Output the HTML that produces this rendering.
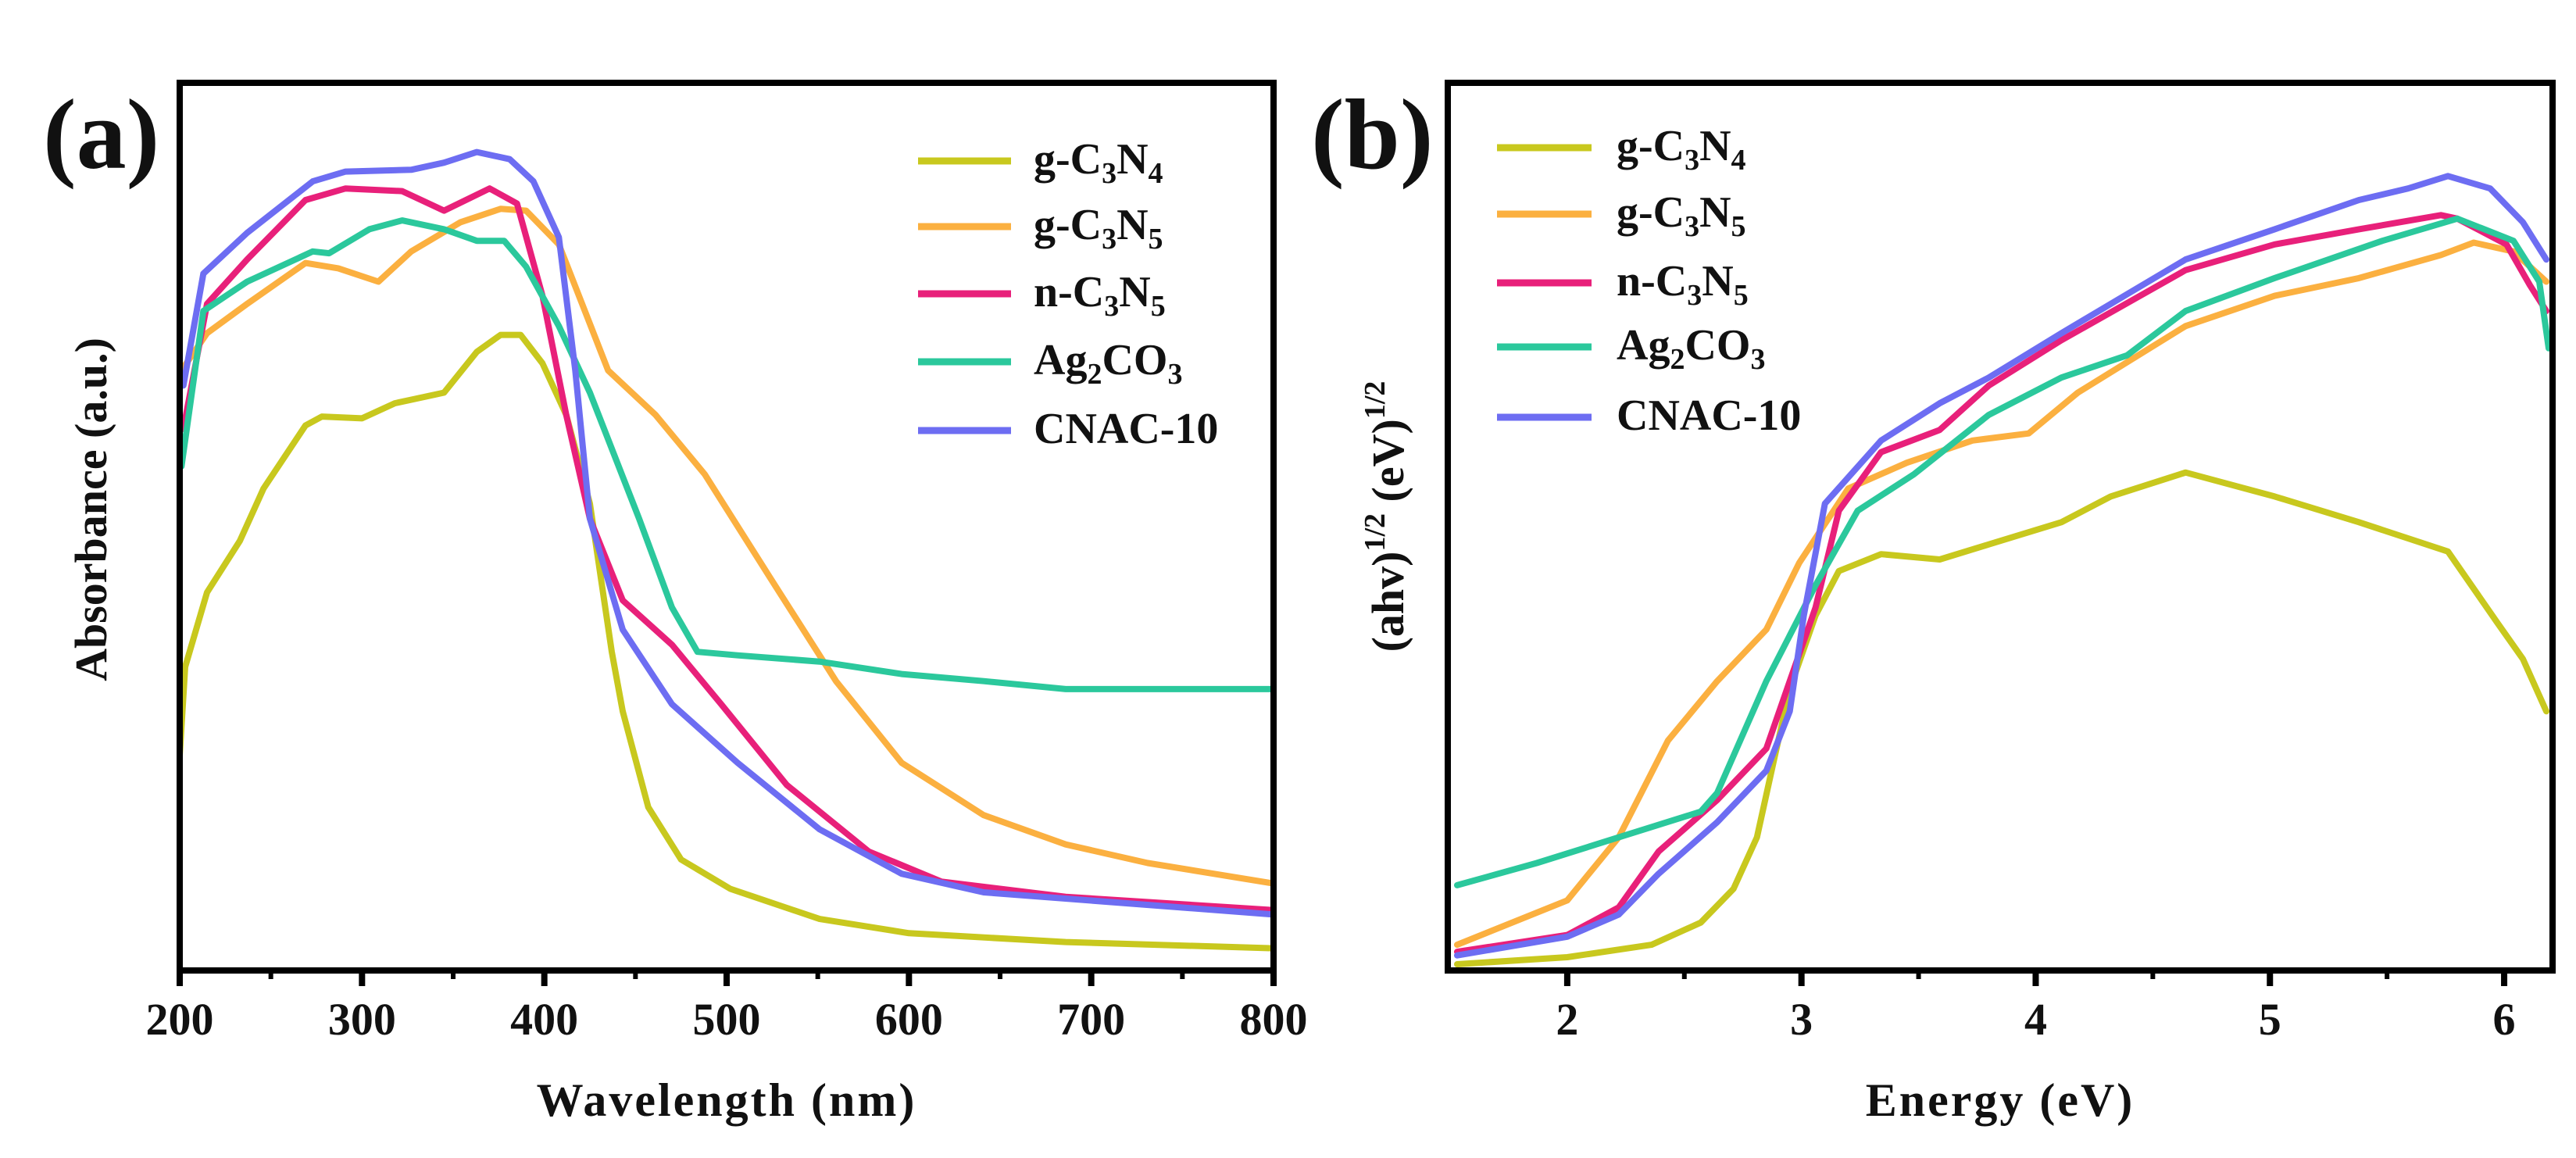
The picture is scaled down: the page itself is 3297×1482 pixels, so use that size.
<!DOCTYPE html>
<html><head><meta charset="utf-8"><style>
body{margin:0;background:#fff;}
svg{display:block;}
text{font-family:"Liberation Serif",serif;font-weight:bold;fill:#111;}
</style></head><body>
<svg id="fig" width="3297" height="1482" viewBox="0 0 3297 1482" xmlns="http://www.w3.org/2000/svg"></svg>
<script>
// ---------- Panel (a) data ----------
const aTicks = [200,300,400,500,600,700,800];
const aLabels = ['g-C<tspan dy="12" font-size="38">3</tspan><tspan dy="-12">N</tspan><tspan dy="12" font-size="38">4</tspan>',
 'g-C<tspan dy="12" font-size="38">3</tspan><tspan dy="-12">N</tspan><tspan dy="12" font-size="38">5</tspan>',
 'n-C<tspan dy="12" font-size="38">3</tspan><tspan dy="-12">N</tspan><tspan dy="12" font-size="38">5</tspan>',
 'Ag<tspan dy="12" font-size="38">2</tspan><tspan dy="-12">CO</tspan><tspan dy="12" font-size="38">3</tspan>',
 'CNAC-10'];
const aG4x = [200,203,215,233,246,269,278,300,318,345,363,376,387,399,412,425,437,443,457,475,502,551,600,686,800];
const aG4y = [24.2,34.2,42.6,48.4,54.3,61.4,62.4,62.2,63.9,65.1,69.7,71.6,71.6,68.4,62.6,52.6,35.9,29.2,18.4,12.5,9.2,5.8,4.2,3.2,2.5];
const aG5x = [201,215,237,269,287,309,327,354,376,390,408,435,461,488,524,560,596,641,686,731,800];
const aG5y = [67.6,71.8,75.1,79.7,79.1,77.6,81,84.3,85.8,85.6,81.8,67.6,62.6,55.9,44.2,32.6,23.4,17.5,14.2,12.1,9.8];
const aN5x = [202,215,237,269,291,322,345,370,385,399,412,425,443,470,497,533,578,618,686,800];
const aN5y = [61,75.1,80.1,86.8,88.1,87.8,85.6,88.1,86.4,76,62.6,50.9,41.7,36.7,30,20.9,13.4,10,8.3,6.8];
const aAgx = [201,213,237,273,282,304,322,345,363,378,390,408,425,452,470,484,506,551,596,641,686,800];
const aAgy = [56.8,74.3,77.6,81,80.8,83.5,84.5,83.5,82.2,82.2,79.3,72.6,65.1,50.9,40.9,35.9,35.5,34.8,33.4,32.6,31.7,31.7];
const aCnx = [202,213,237,273,291,327,345,363,381,394,408,417,425,443,470,506,551,596,641,800];
const aCny = [65.9,78.5,83.1,88.9,90,90.2,91,92.2,91.4,88.9,82.6,67.6,50.9,38.4,30,23.4,15.9,10.9,8.8,6.3];
// ---------- Panel (b) data ----------
const bTicks = [2,3,4,5,6];
const bG4x = [1.53,2.0,2.36,2.57,2.71,2.81,2.88,2.95,3.06,3.16,3.34,3.59,3.80,4.11,4.32,4.64,5.02,5.38,5.76,5.97,6.08,6.18];
const bG4y = [0.7,1.5,2.9,5.4,9.2,15,23.4,31.7,40,45,46.9,46.3,48,50.5,53.4,56.1,53.4,50.5,47.2,39.2,35.1,29.2];
const bG5x = [1.53,2.0,2.22,2.43,2.64,2.85,2.99,3.20,3.45,3.73,3.97,4.18,4.64,5.02,5.38,5.73,5.87,6.04,6.18];
const bG5y = [2.9,7.9,15,25.9,32.6,38.4,45.9,54.3,57.2,59.7,60.5,65.1,72.6,76,78,80.6,82,81,77.6];
const bN5x = [1.53,2.0,2.22,2.39,2.64,2.85,2.95,3.06,3.16,3.34,3.59,3.80,4.11,4.64,5.02,5.38,5.73,5.80,6.01,6.11,6.18];
const bN5y = [2.1,4,7.1,13.4,19.2,25,32.6,40.9,51.8,58.4,60.9,65.9,71,78.9,81.8,83.5,85.1,84.7,81.8,77.2,74.3];
const bAgx = [1.53,1.87,2.22,2.57,2.64,2.85,3.06,3.24,3.48,3.80,4.11,4.39,4.64,5.02,5.48,5.80,6.04,6.15,6.19];
const bAgy = [9.6,12.1,15,17.9,20,32.6,43.4,51.8,55.9,62.6,66.8,69.3,74.3,78,82.2,84.7,82.2,77.6,70.1];
const bCnx = [1.53,2.0,2.22,2.39,2.64,2.85,2.95,3.01,3.10,3.34,3.59,3.80,4.11,4.64,5.02,5.38,5.59,5.76,5.94,6.08,6.18];
const bCny = [1.7,3.8,6.3,10.9,16.7,22.5,29.2,40,52.6,59.7,63.9,66.8,71.8,80.1,83.5,86.8,88.1,89.5,88.1,84.3,80.1];

const colors = ["#c8c81e","#fbb040","#e8207a","#2bc89c","#6d6df2"];
const NS="http://www.w3.org/2000/svg";
const svg=document.getElementById('fig');
function mk(tag,attrs,parent){const e=document.createElementNS(NS,tag);for(const k in attrs)e.setAttribute(k,attrs[k]);(parent||svg).appendChild(e);return e;}

function panel(p){
  const g=mk('g',{});
  
  
  const X=v=>p.L+(v-p.x0)/(p.x1-p.x0)*(p.R-p.L);
  const Y=v=>p.B-v/100*(p.B-p.T);
  p.series.forEach((s,i)=>{
    const d=s.x.map((v,j)=>(j?'L':'M')+X(v).toFixed(1)+' '+Y(s.y[j]).toFixed(1)).join(' ');
    const path=mk('path',{d:d,fill:'none',stroke:colors[i],'stroke-width':8,'stroke-linejoin':'round','stroke-linecap':'round'},g);
    
    
  });
  const fr=mk('rect',{x:p.L,y:p.T,width:p.R-p.L,height:p.B-p.T,fill:'none',stroke:'#000','stroke-width':8},g);
  
  
  p.ticks.forEach(t=>{
    const x=X(t);
    mk('line',{x1:x,x2:x,y1:p.B,y2:p.B+20,stroke:'#000','stroke-width':8},g);
    const tx=mk('text',{x:x,y:p.B+82,'font-size':58,'text-anchor':'middle'},g);
    tx.textContent=String(t);
    
    
  });
  p.minor.forEach(t=>{const x=X(t);mk('line',{x1:x,x2:x,y1:p.B,y2:p.B+11,stroke:'#000','stroke-width':6},g);});
  const xt=mk('text',{x:(p.L+p.R)/2,y:1428,'font-size':60,'text-anchor':'middle','letter-spacing':3},g);
  xt.textContent=p.xtitle;
  
  
  const pl=mk('text',{x:p.labX,y:215,'font-size':128},g);
  pl.textContent=p.lab;
  
  
  p.leg.ys.forEach((y,i)=>{
    const ln=mk('line',{x1:p.leg.x1,x2:p.leg.x2,y1:y,y2:y,stroke:colors[i],'stroke-width':9},g);
    
    
    const tt=mk('text',{x:p.leg.tx,y:y+16,'font-size':56},g);
    tt.innerHTML=aLabels[i];
    
    
  });
  return g;
}

panel({name:'panel-a',L:230,R:1630,T:106,B:1242,x0:200,x1:800,ticks:aTicks,minor:[250,350,450,550,650,750],
  xtitle:'Wavelength (nm)',lab:'(a)',labX:55,
  leg:{x1:1175,x2:1294,tx:1323,ys:[206,290,376,463,551]},
  series:[{key:'g-c3n4',x:aG4x,y:aG4y},{key:'g-c3n5',x:aG5x,y:aG5y},{key:'n-c3n5',x:aN5x,y:aN5y},{key:'ag2co3',x:aAgx,y:aAgy},{key:'cnac-10',x:aCnx,y:aCny}]});

panel({name:'panel-b',L:1853,R:3267,T:106,B:1242,x0:2-153/300,x1:6+62/300,ticks:bTicks,minor:[2.5,3.5,4.5,5.5],
  xtitle:'Energy (eV)',lab:'(b)',labX:1678,
  leg:{x1:1916,x2:2037,tx:2069,ys:[189,274,362,444,534]},
  series:[{key:'g-c3n4',x:bG4x,y:bG4y},{key:'g-c3n5',x:bG5x,y:bG5y},{key:'n-c3n5',x:bN5x,y:bN5y},{key:'ag2co3',x:bAgx,y:bAgy},{key:'cnac-10',x:bCnx,y:bCny}]});

const ya=mk('text',{x:0,y:0,'font-size':58,'text-anchor':'middle',transform:'translate(136,652) rotate(-90)'});
ya.textContent='Absorbance (a.u.)';


const yb=mk('text',{x:0,y:0,'font-size':58,'text-anchor':'middle',transform:'translate(1796,661) rotate(-90)'});
yb.innerHTML='(ahv)<tspan dy="-24" font-size="38">1/2</tspan><tspan dy="24"> (eV)</tspan><tspan dy="-24" font-size="38">1/2</tspan>';


</script>
</body></html>
